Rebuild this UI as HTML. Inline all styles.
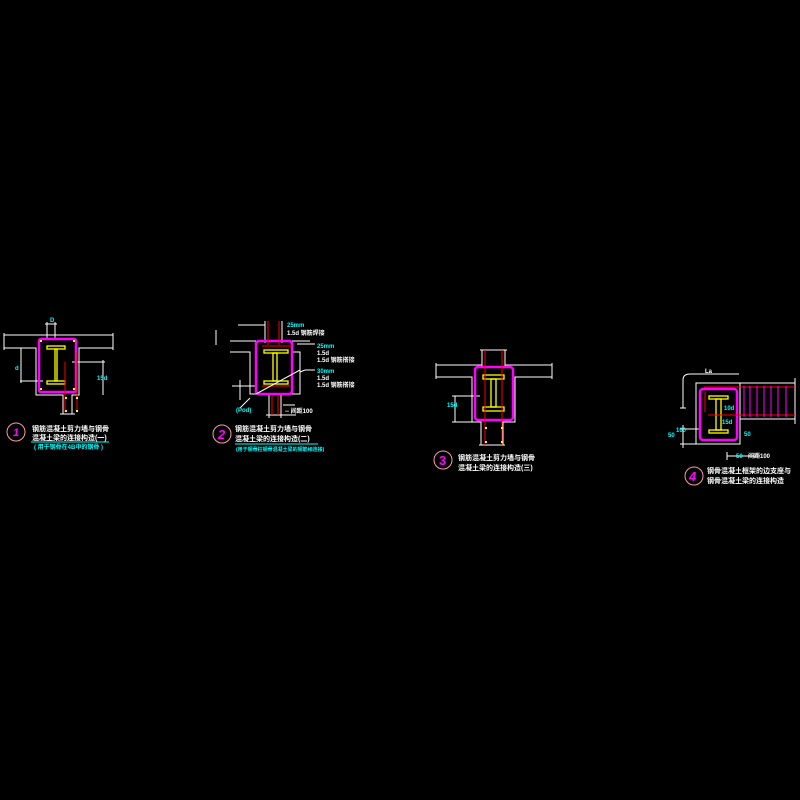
<!DOCTYPE html>
<html><head><meta charset="utf-8"><style>
html,body{margin:0;padding:0;background:#000;}
svg{display:block}
text{font-family:"Liberation Sans","Noto Sans CJK SC",sans-serif;font-weight:bold}
</style></head><body>
<svg width="800" height="800" viewBox="0 0 800 800" xmlns="http://www.w3.org/2000/svg">
<rect width="800" height="800" fill="#000"/>

<!-- ===== Detail 1 ===== -->
<g fill="none" stroke-width="1">
  <g stroke="#fff">
    <polyline points="4,335 113,335"/>
    <polyline points="4,348 36,348 36,395 63,395 63,414"/>
    <polyline points="113,348 79,348 79,395 72,395 72,414"/>
    <line x1="4" y1="333" x2="4" y2="350"/>
    <line x1="113" y1="333" x2="113" y2="350"/>
    <line x1="47" y1="322" x2="47" y2="339"/>
    <line x1="55" y1="322" x2="55" y2="339"/>
    <line x1="45" y1="324" x2="57" y2="324"/>
    <line x1="21" y1="348" x2="21" y2="383"/>
    <line x1="20" y1="381" x2="43" y2="381"/>
    <line x1="103" y1="360" x2="103" y2="395"/>
    <line x1="72" y1="362" x2="105" y2="362"/>
    <line x1="60" y1="414" x2="75" y2="414"/>
  </g>
  <rect x="39" y="339" width="37" height="53" rx="2" stroke="#f0f" stroke-width="2.5"/>
  <g stroke="#ff0" stroke-width="1.3">
    <rect x="47" y="346" width="18" height="3"/>
    <rect x="55" y="349" width="2" height="32"/>
    <rect x="47" y="381" width="18" height="3"/>
  </g>
  <g stroke="#f00"><line x1="65" y1="362" x2="65" y2="412"/><line x1="77" y1="352" x2="77" y2="412"/></g>
  <circle cx="16" cy="432" r="9" stroke="#f9a"/>
  <line x1="31" y1="442" x2="109" y2="442" stroke="#0ff"/>
</g>
<g fill="#ff0"><rect x="40" y="340" width="2" height="2"/><rect x="73" y="340" width="2" height="2"/><rect x="40" y="388" width="2" height="2"/><rect x="73" y="388" width="2" height="2"/><rect x="65" y="397" width="2" height="2"/><rect x="76" y="397" width="2" height="2"/><rect x="65" y="410" width="2" height="2"/><rect x="76" y="410" width="2" height="2"/></g>
<text x="13" y="436" font-size="11" fill="#f0f" font-style="italic">1</text>
<text x="32" y="431" font-size="7" fill="#fff">钢筋混凝土剪力墙与钢骨</text>
<text x="32" y="440" font-size="7" fill="#fff">混凝土梁的连接构造(一)</text>
<text x="34" y="449" font-size="6" fill="#0ff">( 用于钢骨在4B中的钢骨 )</text>
<text x="50" y="322" font-size="6" fill="#0ff">D</text>
<text x="15" y="370" font-size="6" fill="#0ff">d</text>
<text x="97" y="380" font-size="6" fill="#0ff">15d</text>

<!-- ===== Detail 2 ===== -->
<g fill="none" stroke-width="1">
  <g stroke="#fff">
    <line x1="265" y1="321" x2="265" y2="343"/>
    <line x1="282" y1="321" x2="282" y2="343"/>
    <polyline points="230,341 256,341"/>
    <polyline points="230,352 250,352 250,394 269,394 269,418"/>
    <polyline points="292,341 310,341"/>
    <polyline points="292,352 300,352 300,394 281,394 281,418"/>
    <line x1="216" y1="330" x2="216" y2="345"/>
    <line x1="238" y1="325" x2="265" y2="325"/>
    <line x1="240" y1="380" x2="240" y2="400"/>
    <line x1="232" y1="386" x2="256" y2="386"/>
    <line x1="266" y1="415" x2="296" y2="415"/>
    <line x1="283" y1="405" x2="295" y2="405"/>
    <polyline points="300,372 305,370 315,370"/>
    <polyline points="297,344 315,344"/>
    <line x1="250" y1="398" x2="240" y2="408"/>
  </g>
  <polygon points="258,341 290,341 292,343 292,392 290,394 258,394 256,392 256,343" stroke="#f0f" stroke-width="2.5"/>
  <g stroke="#ff0" stroke-width="1.3">
    <rect x="264" y="350" width="24" height="3"/>
    <rect x="273" y="353" width="4" height="28"/>
    <rect x="264" y="381" width="24" height="3"/>
  </g>
  <g stroke="#f00"><line x1="268" y1="321" x2="268" y2="345"/><line x1="279" y1="321" x2="279" y2="345"/><line x1="262" y1="346" x2="292" y2="346"/><line x1="262" y1="386" x2="290" y2="386"/><line x1="272" y1="396" x2="272" y2="415"/><line x1="278" y1="396" x2="278" y2="415"/></g>
  <line x1="256" y1="394" x2="300" y2="370" stroke="#fff"/>
  <circle cx="222" cy="434" r="9" stroke="#f9a"/>
  <line x1="235" y1="444" x2="318" y2="444" stroke="#0ff"/>
</g>
<text x="218" y="439" font-size="13" fill="#f0f" font-style="italic">2</text>
<text x="235" y="431" font-size="7" fill="#fff">钢筋混凝土剪力墙与钢骨</text>
<text x="235" y="441" font-size="7" fill="#fff">混凝土梁的连接构造(二)</text>
<text x="236" y="451" font-size="5" fill="#0ff">(用于钢骨柱钢骨混凝土梁的钢筋相连接)</text>
<text x="287" y="327" font-size="6" fill="#0ff">25mm</text>
<text x="287" y="335" font-size="6" fill="#fff">1.5d 钢筋焊接</text>
<text x="317" y="348" font-size="6" fill="#0ff">25mm</text>
<text x="317" y="355" font-size="6" fill="#fff">1.5d</text>
<text x="317" y="362" font-size="6" fill="#fff">1.5d 钢筋搭接</text>
<text x="317" y="373" font-size="6" fill="#0ff">30mm</text>
<text x="317" y="380" font-size="6" fill="#fff">1.5d</text>
<text x="317" y="387" font-size="6" fill="#fff">1.5d 钢筋搭接</text>
<text x="236" y="412" font-size="6" fill="#0ff">(Pod)</text>
<text x="285" y="413" font-size="6" fill="#fff">-- 间距100</text>

<!-- ===== Detail 3 ===== -->
<g fill="none" stroke-width="1">
  <g stroke="#fff">
    <line x1="482" y1="350" x2="482" y2="367"/>
    <line x1="505" y1="350" x2="505" y2="367"/>
    <line x1="480" y1="350" x2="507" y2="350"/>
    <polyline points="436,365 482,365"/>
    <polyline points="505,365 552,365"/>
    <polyline points="436,377 472,377 472,422 481,422 481,445"/>
    <polyline points="552,377 515,377 515,422 503,422 503,445"/>
    <line x1="436" y1="363" x2="436" y2="379"/>
    <line x1="552" y1="363" x2="552" y2="379"/>
    <line x1="479" y1="445" x2="505" y2="445"/>
    <line x1="455" y1="396" x2="455" y2="422"/>
    <line x1="452" y1="396" x2="480" y2="396"/>
    <line x1="452" y1="422" x2="472" y2="422"/>
  </g>
  <rect x="475" y="367" width="38" height="53" rx="3" stroke="#f0f" stroke-width="2.5"/>
  <g stroke="#ff0" stroke-width="1.3">
    <rect x="483" y="375" width="21" height="4"/>
    <rect x="491" y="379" width="5" height="28"/>
    <rect x="483" y="407" width="21" height="4"/>
  </g>
  <g stroke="#f00"><line x1="485" y1="350" x2="485" y2="445"/><line x1="502" y1="350" x2="502" y2="445"/></g>
  <circle cx="443" cy="460" r="9" stroke="#f9a"/>
</g>
<g fill="#ff0"><rect x="485" y="427" width="2" height="2"/><rect x="501" y="427" width="2" height="2"/><rect x="485" y="441" width="2" height="2"/><rect x="501" y="441" width="2" height="2"/></g>
<text x="439" y="465" font-size="13" fill="#f0f">3</text>
<text x="458" y="460" font-size="7" fill="#fff">钢筋混凝土剪力墙与钢骨</text>
<text x="458" y="470" font-size="7" fill="#fff">混凝土梁的连接构造(三)</text>
<text x="447" y="407" font-size="6" fill="#0ff">15d</text>

<!-- ===== Detail 4 ===== -->
<g fill="none" stroke-width="1">
  <g stroke="#fff">
    <rect x="696" y="383" width="44" height="61"/>
    <line x1="740" y1="383" x2="795" y2="383"/>
    <line x1="740" y1="419" x2="795" y2="419"/>
    <line x1="795" y1="378" x2="795" y2="424"/>
    <path d="M683,408 V380 Q683,374 690,374 H739"/>
    <line x1="680" y1="408" x2="686" y2="408"/>
    <line x1="680" y1="429" x2="700" y2="429"/>
    <line x1="680" y1="444" x2="696" y2="444"/>
    <line x1="683" y1="425" x2="683" y2="448"/>
    <line x1="727" y1="452" x2="727" y2="460"/>
    <line x1="727" y1="456" x2="760" y2="456"/>
  </g>
  <rect x="700" y="389" width="37" height="51" rx="3" stroke="#f0f" stroke-width="2.5"/>
  <g stroke="#ff0" stroke-width="1.3">
    <rect x="709" y="396" width="19" height="3"/>
    <rect x="716" y="399" width="5" height="31"/>
    <rect x="709" y="430" width="19" height="3"/>
  </g>
  <g stroke="#f00"><line x1="704" y1="387" x2="795" y2="387"/><line x1="708" y1="415" x2="795" y2="415"/><line x1="705" y1="391" x2="705" y2="412"/></g>
  <g stroke="#f0f"><line x1="744" y1="386" x2="744" y2="417"/><line x1="750" y1="386" x2="750" y2="417"/><line x1="757" y1="386" x2="757" y2="417"/><line x1="764" y1="386" x2="764" y2="417"/><line x1="771" y1="386" x2="771" y2="417"/><line x1="778" y1="386" x2="778" y2="417"/><line x1="786" y1="386" x2="786" y2="417"/></g>
  <circle cx="694" cy="476" r="9" stroke="#f9a"/>
</g>
<text x="689" y="481" font-size="13" fill="#f0f" font-style="italic">4</text>
<text x="707" y="473" font-size="7" fill="#fff">钢骨混凝土框架的边支座与</text>
<text x="707" y="483" font-size="7" fill="#fff">钢骨混凝土梁的连接构造</text>
<text x="705" y="373" font-size="6" fill="#fff">La</text>
<text x="724" y="410" font-size="6" fill="#0ff">10d</text>
<text x="722" y="424" font-size="6" fill="#0ff">15d</text>
<text x="744" y="436" font-size="6" fill="#0ff">50</text>
<text x="736" y="458" font-size="6" fill="#0ff">50</text>
<text x="746" y="458" font-size="6" fill="#fff">-间距100</text>
<text x="668" y="437" font-size="6" fill="#0ff">50</text>
<text x="676" y="432" font-size="6" fill="#0ff">100</text>
</svg>
</body></html>
